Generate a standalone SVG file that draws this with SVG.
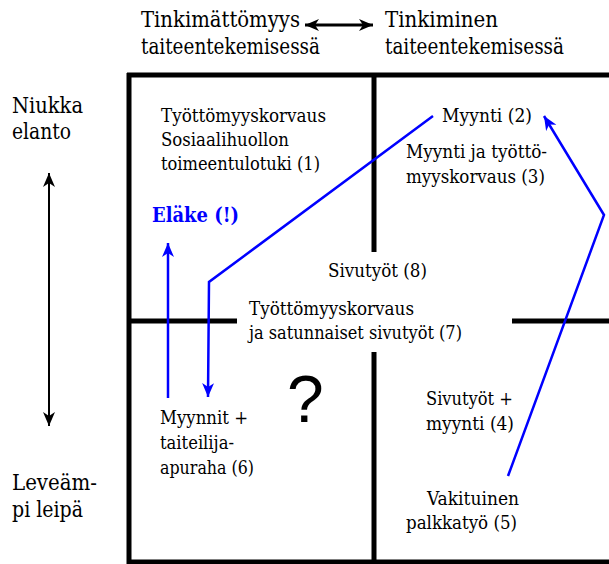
<svg xmlns="http://www.w3.org/2000/svg" width="609" height="564" viewBox="0 0 609 564">
<style>
text{font-family:'DejaVu Serif','Liberation Serif','Times New Roman',serif;font-stretch:condensed;fill:#000}
.h{font-size:21.5px}
.q{font-size:18.3px}
.e{font-size:20px;font-weight:bold;fill:#0000ff}
.grid{stroke:#000;stroke-width:5;fill:none}
.blk{stroke:#000;fill:none}
.blu{stroke:#0000ff;stroke-width:2.5;fill:none;stroke-linejoin:miter}
</style>
<defs>
<marker id="ak" markerUnits="userSpaceOnUse" markerWidth="16" markerHeight="14" refX="14" refY="6" orient="auto-start-reverse">
<path d="M0,0 L14,6 L0,12 L4,6 z" fill="#000"/>
</marker>
<marker id="ab" markerUnits="userSpaceOnUse" markerWidth="16" markerHeight="14" refX="14" refY="6" orient="auto-start-reverse">
<path d="M0,0 L14,6 L0,12 L4,6 z" fill="#0000ff"/>
</marker>
</defs>
<rect width="609" height="564" fill="#fff"/>
<g id="grid">
<line class="grid" x1="127" y1="75" x2="609" y2="75"/>
<line class="grid" x1="129" y1="73" x2="129" y2="564"/>
<line class="grid" x1="127" y1="562" x2="609" y2="562"/>
<line class="grid" x1="374" y1="75" x2="374" y2="252"/>
<line class="grid" x1="374" y1="352" x2="374" y2="562"/>
<line class="grid" x1="129" y1="321" x2="237" y2="321"/>
<line class="grid" x1="512" y1="321" x2="609" y2="321"/>
</g>
<g id="axis-top-left">
<text class="h" x="141" y="27" textLength="159" lengthAdjust="spacingAndGlyphs">Tinkimättömyys</text>
<text class="h" x="141" y="54" textLength="179" lengthAdjust="spacingAndGlyphs">taiteentekemisessä</text>
</g>
<g id="axis-top-right">
<text class="h" x="385" y="27" textLength="113" lengthAdjust="spacingAndGlyphs">Tinkiminen</text>
<text class="h" x="385" y="54" textLength="179" lengthAdjust="spacingAndGlyphs">taiteentekemisessä</text>
</g>
<g id="axis-left-top">
<text class="h" x="12" y="113" textLength="71" lengthAdjust="spacingAndGlyphs">Niukka</text>
<text class="h" x="12" y="139" textLength="59" lengthAdjust="spacingAndGlyphs">elanto</text>
</g>
<g id="axis-left-bottom">
<text class="h" x="12" y="490" textLength="85" lengthAdjust="spacingAndGlyphs">Leveäm-</text>
<text class="h" x="12" y="517" textLength="71" lengthAdjust="spacingAndGlyphs">pi leipä</text>
</g>
<g id="n1">
<text class="q" x="161" y="122" textLength="165" lengthAdjust="spacingAndGlyphs">Työttömyyskorvaus</text>
<text class="q" x="161" y="146" textLength="128" lengthAdjust="spacingAndGlyphs">Sosiaalihuollon</text>
<text class="q" x="161" y="170" textLength="159" lengthAdjust="spacingAndGlyphs">toimeentulotuki (1)</text>
</g>
<g id="n2"><text class="q" x="442" y="122" textLength="90" lengthAdjust="spacingAndGlyphs">Myynti (2)</text></g>
<g id="n3">
<text class="q" x="406" y="158" textLength="141" lengthAdjust="spacingAndGlyphs">Myynti ja työttö-</text>
<text class="q" x="406" y="183" textLength="139" lengthAdjust="spacingAndGlyphs">myyskorvaus (3)</text>
</g>
<g id="n-elake"><text class="e" x="152" y="222" textLength="87" lengthAdjust="spacingAndGlyphs">Eläke (!)</text></g>
<g id="n8"><text class="q" x="328" y="277" textLength="99" lengthAdjust="spacingAndGlyphs">Sivutyöt (8)</text></g>
<g id="n7">
<text class="q" x="249" y="315" textLength="165" lengthAdjust="spacingAndGlyphs">Työttömyyskorvaus</text>
<text class="q" x="249" y="339" textLength="213" lengthAdjust="spacingAndGlyphs">ja satunnaiset sivutyöt (7)</text>
</g>
<g id="n6">
<text class="q" x="160" y="424" textLength="88" lengthAdjust="spacingAndGlyphs">Myynnit +</text>
<text class="q" x="160" y="449" textLength="74" lengthAdjust="spacingAndGlyphs">taiteilija-</text>
<text class="q" x="160" y="474" textLength="94" lengthAdjust="spacingAndGlyphs">apuraha (6)</text>
</g>
<g id="n4">
<text class="q" x="426" y="405" textLength="87" lengthAdjust="spacingAndGlyphs">Sivutyöt +</text>
<text class="q" x="426" y="430" textLength="88" lengthAdjust="spacingAndGlyphs">myynti (4)</text>
</g>
<g id="n5">
<text class="q" x="427" y="505" textLength="92" lengthAdjust="spacingAndGlyphs">Vakituinen</text>
<text class="q" x="406" y="529" textLength="111" lengthAdjust="spacingAndGlyphs">palkkatyö (5)</text>
</g>
<g id="n-q"><text x="287" y="422" style="font-family:'Liberation Sans',Arial,sans-serif;font-stretch:normal;font-size:66px">?</text></g>
<g id="connectors">
<line class="blk" x1="305" y1="25" x2="373" y2="25" stroke-width="3" marker-start="url(#ak)" marker-end="url(#ak)"/>
<line class="blk" x1="49" y1="173" x2="49" y2="426" stroke-width="2" marker-start="url(#ak)" marker-end="url(#ak)"/>
<line class="blu" x1="168" y1="398" x2="168" y2="243" marker-end="url(#ab)"/>
<polyline class="blu" points="433,116 209,282 208,397" marker-end="url(#ab)"/>
<polyline class="blu" points="508,476 604,215 544,116" marker-end="url(#ab)"/>
</g>
</svg>
